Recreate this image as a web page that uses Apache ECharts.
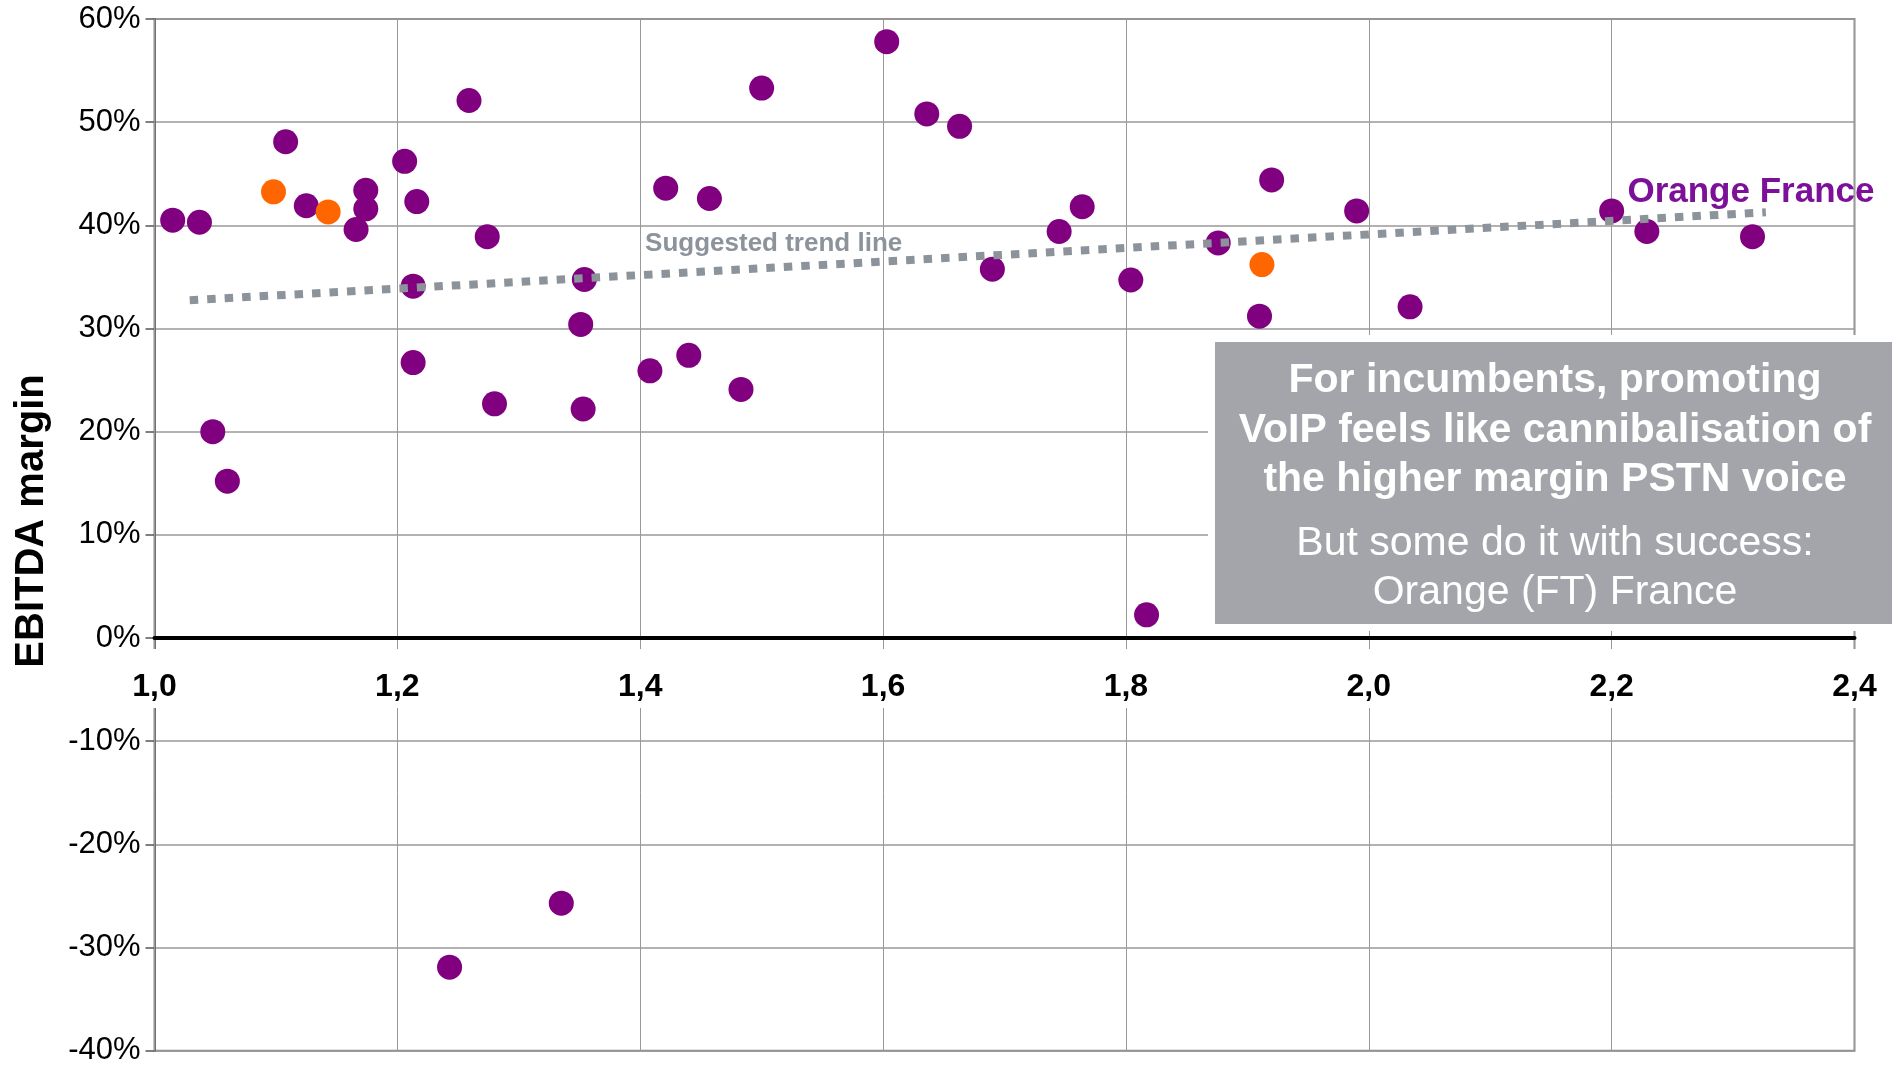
<!DOCTYPE html>
<html>
<head>
<meta charset="utf-8">
<title>EBITDA margin</title>
<script src="https://cdn.jsdelivr.net/npm/echarts@6/dist/echarts.min.js"></script>
<style>
  html, body { margin: 0; padding: 0; background: #fff; }
  #main { width: 1892px; height: 1065px; }
</style>
</head>
<body>
<div id="main"></div>
<script>
// data (x = ratio, y = EBITDA margin in %)
var purpleX = [1.015, 1.037, 1.048, 1.060, 1.108, 1.125, 1.166, 1.174, 1.174, 1.206,
  1.216, 1.213, 1.213, 1.243, 1.259, 1.274, 1.280, 1.335, 1.351, 1.354,
  1.353, 1.408, 1.421, 1.440, 1.457, 1.483, 1.500, 1.603, 1.636, 1.663,
  1.690, 1.745, 1.764, 1.804, 1.817, 1.876, 1.910, 1.920, 1.990, 2.034,
  2.200, 2.229, 2.316]
var purpleY = [40.5, 40.3, 20.0, 15.2, 48.1, 41.9, 39.6, 43.4, 41.6, 46.2,
  42.3, 34.1, 26.7, -31.9, 52.1, 38.9, 22.7, -25.7, 30.4, 34.75,
  22.2, 25.9, 43.6, 27.4, 42.6, 24.1, 53.3, 57.8, 50.8, 49.6,
  35.75, 39.4, 41.8, 34.7, 2.25, 38.3, 31.2, 44.4, 41.4, 32.1,
  41.4, 39.4, 38.9]
var orangeX = [1.098, 1.143, 1.912]
var orangeY = [43.25, 41.3, 36.2]

// suggested trend line end points
var trendX = [1.029, 2.327]
var trendY = [32.74, 41.27]

// annotations placed in data space
var noteLabels = ['Suggested trend line', 'Orange France']
var noteX = [1.404, 2.213]
var noteY = [38.2, 43.15]

var boxBold = ['For incumbents, promoting', 'VoIP feels like cannibalisation of', 'the higher margin PSTN voice']
var boxPlain = ['But some do it with success:', 'Orange (FT) France']

var FONT = '"Liberation Sans", Arial, Helvetica, sans-serif'

function zip(xs, ys) {
  return xs.map(function(x, i) { return [x, ys[i]] })
}
function xFmt(v) { return v.toFixed(1).replace('.', ',') }

var chart = echarts.init(document.getElementById('main'))

var graphics = [
  // y axis title
  {
    type: 'text', x: 32, y: 521, rotation: Math.PI / 2, z: 10,
    style: { text: 'EBITDA margin', font: 'bold 40px ' + FONT, fill: '#000', align: 'center', verticalAlign: 'middle' }
  },
  // comment box
  { type: 'rect', z: 20, shape: { x: 1208, y: 335, width: 700, height: 296 }, style: { fill: '#fff' } },
  { type: 'rect', z: 21, shape: { x: 1215, y: 342, width: 690, height: 282 }, style: { fill: '#a3a5ab' } }
]
var boldY = [380.2, 430.7, 479.2]
boxBold.forEach(function(t, i) {
  graphics.push({
    type: 'text', x: 1555, y: boldY[i], z: 22,
    style: { text: t, font: 'bold 41px ' + FONT, fill: '#fff', align: 'center', verticalAlign: 'middle' }
  })
})
var plainY = [543.5, 592.2]
boxPlain.forEach(function(t, i) {
  graphics.push({
    type: 'text', x: 1555, y: plainY[i], z: 22,
    style: { text: t, font: '41px ' + FONT, fill: '#fff', align: 'center', verticalAlign: 'middle' }
  })
})

chart.setOption({
  animation: false,
  textStyle: { fontFamily: FONT },
  grid: {
    left: 154.5, top: 19, right: 37.5, bottom: 14.3,
    outerBoundsMode: 'none', containLabel: false,
    show: true, borderColor: '#8a8a8a', borderWidth: 2, backgroundColor: 'transparent'
  },
  xAxis: [
    {
      type: 'value', min: 1.0, max: 2.4, interval: 0.2, z: 1,
      axisLine: { onZero: true, lineStyle: { color: '#000', width: 4 } },
      axisTick: { show: false },
      axisLabel: { show: false },
      splitLine: { show: true, lineStyle: { color: '#999', width: 1 } }
    },
    {
      // same scale, only carries the labels next to the 0% line
      type: 'value', min: 1.0, max: 2.4, interval: 0.2, z: 2, position: 'bottom', offset: 0,
      axisLine: { show: false, onZero: false },
      axisTick: { show: false },
      splitLine: { show: false },
      axisLabel: {
        showMinLabel: true, showMaxLabel: true,
        fontSize: 32, fontWeight: 'bold', color: '#000', fontFamily: FONT,
        margin: 11, lineHeight: 34, padding: [21, 8, 4, 8], backgroundColor: '#fff',
        formatter: xFmt
      }
    }
  ],
  yAxis: {
    type: 'value', min: -40, max: 60, interval: 10,
    axisLine: { show: true, onZero: false, lineStyle: { color: '#555', width: 1.5 } },
    axisTick: { show: true, length: 9, lineStyle: { color: '#555', width: 1.5 } },
    splitLine: { show: true, lineStyle: { color: '#999', width: 1.5 } },
    axisLabel: {
      fontSize: 31, color: '#000', margin: 14, fontFamily: FONT,
      padding: [7, 0, 0, 0], backgroundColor: 'rgba(255,255,255,0)',
      formatter: function(v) { return v + '%' }
    }
  },
  graphic: graphics,
  series: [
    {
      name: 'Operators', type: 'scatter', symbolSize: 25, z: 3,
      itemStyle: { color: '#800080', opacity: 1 },
      data: zip(purpleX, purpleY)
    },
    {
      name: 'Highlighted', type: 'scatter', symbolSize: 25, z: 3,
      itemStyle: { color: '#ff6600', opacity: 1 },
      data: zip(orangeX, orangeY)
    },
    {
      name: 'Suggested trend line', type: 'line', z: 4, symbol: 'none', silent: true,
      lineStyle: { color: '#8c939b', width: 8, type: [8.5, 9], cap: 'butt' },
      data: zip(trendX, trendY)
    },
    {
      name: 'notes', type: 'scatter', z: 5, symbolSize: 0.01, silent: true,
      itemStyle: { color: '#fff', opacity: 1 },
      label: {
        show: true, position: 'right', distance: 0,
        formatter: function(p) { return noteLabels[p.dataIndex] }
      },
      data: [
        { value: [noteX[0], noteY[0]], label: { fontSize: 26, fontWeight: 'bold', color: '#8c939b' } },
        { value: [noteX[1], noteY[1]], label: { fontSize: 35, fontWeight: 'bold', color: '#7d1099' } }
      ]
    }
  ]
})

// move the label axis up to the 0% line, using the y scale
var zeroPx = chart.convertToPixel({ yAxisIndex: 0 }, 0)
var bottomPx = chart.convertToPixel({ yAxisIndex: 0 }, -40)
chart.setOption({ xAxis: [{}, { offset: zeroPx - bottomPx }] })
</script>
</body>
</html>
